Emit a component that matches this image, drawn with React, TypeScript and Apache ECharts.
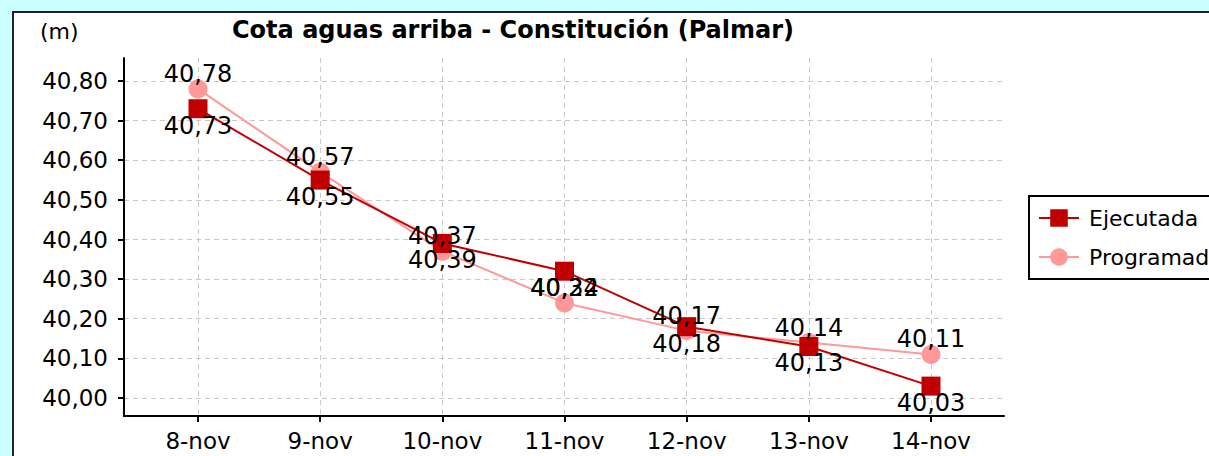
import React, { useEffect, useRef } from "react";
import * as echarts from "echarts";

const categories = ["8-nov", "9-nov", "10-nov", "11-nov", "12-nov", "13-nov", "14-nov"];
const ejecutada = [40.73, 40.55, 40.39, 40.32, 40.18, 40.13, 40.03];
const programada = [40.78, 40.57, 40.37, 40.24, 40.17, 40.14, 40.11];
const yMin = 40.0;
const yMax = 40.8;
const yStep = 0.1;
const titleText = "Cota aguas arriba - Constitución (Palmar)";
const unitText = "(m)";

const FONT = "DejaVu Sans";
const fmt = (v: number) => v.toFixed(2).replace(".", ",");

export default function App() {
  const ref = useRef<HTMLDivElement>(null);
  useEffect(() => {
    if (!ref.current) return;
    const chart = echarts.init(ref.current, null, { renderer: "svg" });
    const dash = { color: "#c8c8c8", width: 1, type: [5, 4] as any };
    chart.setOption({
      animation: false,
      backgroundColor: "transparent",
      textStyle: { fontFamily: FONT, color: "#000" },
      title: [
        { text: titleText, left: 232, top: 18, padding: 0, textStyle: { fontFamily: FONT, fontSize: 24, fontWeight: "bold", color: "#000" } },
        { text: unitText, left: 40, top: 20, padding: 0, textStyle: { fontFamily: FONT, fontSize: 22, fontWeight: "normal", color: "#000" } },
      ],
      legend: {
        data: ["Ejecutada", "Programada"],
        orient: "vertical",
        left: 1029,
        top: 196,
        itemWidth: 40,
        itemHeight: 22,
        itemGap: 17,
        padding: [11, 12, 11, 9],
        borderColor: "#000",
        borderWidth: 2,
        backgroundColor: "#fff",
        textStyle: { fontFamily: FONT, fontSize: 22, color: "#000", padding: [0, 0, 0, 5] },
      },
      grid: [
        { left: 124, right: 205, top: 81, bottom: 58, containLabel: false },
        { left: 198, right: 278, top: 58, bottom: 40, containLabel: false },
        { left: 124, right: 205, top: 58, bottom: 40, containLabel: false },
        { left: 198, right: 278, top: 81, bottom: 58, containLabel: false },
      ],
      xAxis: [
        { gridIndex: 0, type: "value", show: false, min: 0, max: 1 },
        {
          gridIndex: 1,
          type: "category",
          data: categories,
          boundaryGap: false,
          axisLine: { show: false },
          axisTick: { show: true, length: 6, lineStyle: { color: "#000", width: 2 } },
          axisLabel: { fontFamily: FONT, fontSize: 23, color: "#000", margin: 13 },
          splitLine: { show: true, lineStyle: dash },
        },
        {
          gridIndex: 2,
          type: "value",
          min: 0,
          max: 1,
          axisLine: { show: true, onZero: false, lineStyle: { color: "#000", width: 2 } },
          axisTick: { show: false },
          axisLabel: { show: false },
          splitLine: { show: false },
        },
        { gridIndex: 3, type: "category", data: categories, boundaryGap: false, show: false },
      ],
      yAxis: [
        {
          gridIndex: 0,
          type: "value",
          min: yMin,
          max: yMax,
          interval: yStep,
          axisLine: { show: false },
          axisTick: { show: true, length: 6, lineStyle: { color: "#000", width: 2 } },
          axisLabel: { fontFamily: FONT, fontSize: 23, color: "#000", margin: 16, formatter: (v: number) => fmt(v) },
          splitLine: { show: true, lineStyle: dash },
        },
        { gridIndex: 1, type: "value", show: false, min: 0, max: 1 },
        {
          gridIndex: 2,
          type: "value",
          min: 0,
          max: 1,
          axisLine: { show: true, onZero: false, lineStyle: { color: "#000", width: 2 } },
          axisTick: { show: false },
          axisLabel: { show: false },
          splitLine: { show: false },
        },
        { gridIndex: 3, type: "value", min: yMin, max: yMax, show: false },
      ],
      series: [
        {
          name: "Programada",
          type: "line",
          xAxisIndex: 3,
          yAxisIndex: 3,
          data: programada,
          symbol: "circle",
          symbolSize: 19,
          itemStyle: { color: "#ff9999" },
          lineStyle: { color: "#ff9999", width: 2 },
          label: {
            show: true,
            position: "inside",
            offset: [0, -15],
            fontFamily: FONT,
            fontSize: 24,
            color: "#000",
            formatter: (p: any) => fmt(p.value),
          },
        },
        {
          name: "Ejecutada",
          type: "line",
          xAxisIndex: 3,
          yAxisIndex: 3,
          data: ejecutada,
          symbol: "rect",
          symbolSize: 19,
          itemStyle: { color: "#c00000" },
          lineStyle: { color: "#c00000", width: 2 },
          label: {
            show: true,
            position: "inside",
            offset: [0, 17],
            fontFamily: FONT,
            fontSize: 24,
            color: "#000",
            formatter: (p: any) => fmt(p.value),
          },
        },
      ],
    });
    return () => chart.dispose();
  }, []);

  return (
    <div style={{ position: "absolute", left: 0, top: 0, width: 1209, height: 456, background: "#ccffff", overflow: "hidden" }}>
      <div
        style={{
          position: "absolute",
          left: 12,
          top: 11,
          width: 1400,
          height: 700,
          background: "#fff",
          borderTop: "2px solid #222",
          borderLeft: "2px solid #222",
        }}
      />
      <div ref={ref} style={{ position: "absolute", left: 0, top: 0, width: 1209, height: 456 }} />
    </div>
  );
}
